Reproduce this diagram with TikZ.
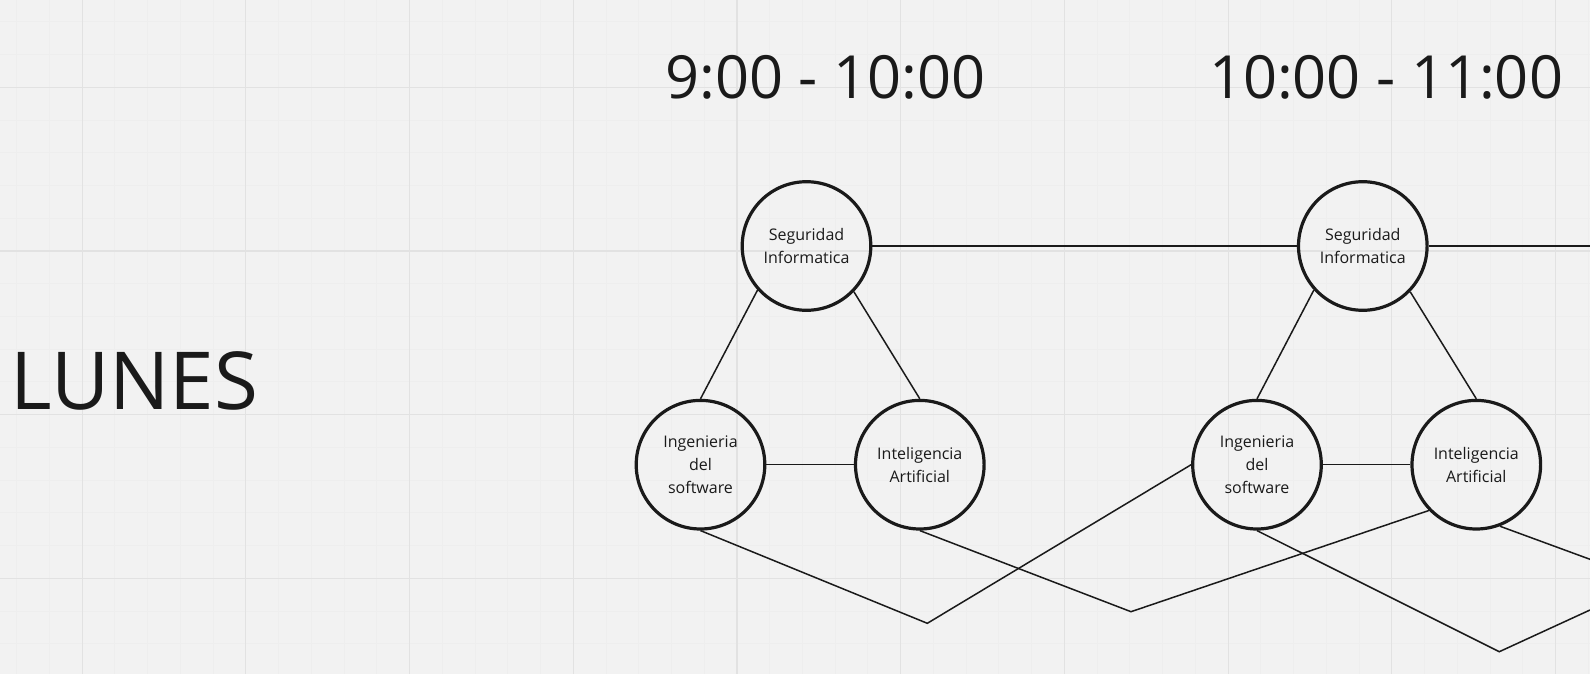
\documentclass[tikz,border=0pt]{standalone}
\usepackage{fontspec}
\setmainfont{Open Sans}
\definecolor{bg}{HTML}{F2F2F2}
\definecolor{gmin}{HTML}{EEEEEE}
\definecolor{gmaj}{HTML}{E2E2E2}
\definecolor{ink}{HTML}{1A1A1A}
\tikzset{
  minorline/.style={draw=gmin, line width=1pt},
  majorline/.style={draw=gmaj, line width=1.1pt},
  subject/.style={circle, draw=ink, line width=3.2pt, minimum size=128.6pt, inner sep=0pt,
    align=center, text=ink, font=\fontsize{16}{23}\selectfont},
  conn/.style={draw=ink, line width=1.5pt},
  title/.style={anchor=base, inner sep=0pt, text=ink, font=\fontsize{59.5}{70}\selectfont},
  daylabel/.style={anchor=base west, inner sep=0pt, text=ink, font=\fontsize{80}{90}\selectfont}
}
\begin{document}
\begin{tikzpicture}[x=1pt, y=-1pt]
\useasboundingbox (0,0) rectangle (1590,674);
\fill[bg] (0,0) rectangle (1590,674);
% grid
\foreach \i in {0,...,48} { \draw[minorline] ({16.7+\i*32.74},0) -- ({16.7+\i*32.74},674); }
\foreach \j in {0,...,20} { \draw[minorline] (0,{21.8+\j*32.74}) -- (1590,{21.8+\j*32.74}); }
\foreach \k in {0,...,9} { \draw[majorline] ({82.2+\k*163.7},0) -- ({82.2+\k*163.7},674); }
\foreach \k in {0,...,3} { \draw[majorline] (0,{87.3+\k*163.7}) -- (1590,{87.3+\k*163.7}); }

% labels
\node[daylabel] (lunes) at (10,409.3) {LUNES};
\node[title] (t1) at (825.5,99) {9:00 - 10:00};
\node[title] (t2) at (1386,99) {10:00 - 11:00};

% group 1
\node[subject] (S1) at (806.5,246) {Seguridad\\Informatica};
\node[subject] (I1) at (700.5,464.7) {Ingenieria\\del\\software};
\node[subject] (A1) at (919.8,464.7) {Inteligencia\\Artificial};
% group 2
\node[subject] (S2) at (1362.8,246) {Seguridad\\Informatica};
\node[subject] (I2) at (1257,464.7) {Ingenieria\\del\\software};
\node[subject] (A2) at (1476.3,464.7) {Inteligencia\\Artificial};

% free ends and bends
\coordinate (e1) at (1590,246);
\coordinate (e2) at (1590,610);
\coordinate (e3) at (1590,559.3);
\coordinate (b1) at (927.3,623.3);
\coordinate (b2) at (1131,611.7);
\coordinate (b3) at (1499.3,651.7);

% connectors
\draw[conn] (S1.222) -- (I1.north);
\draw[conn] (S1.316) -- (A1.north);
\draw[conn] (I1.east) -- (A1.west);
\draw[conn] (S2.222) -- (I2.north);
\draw[conn] (S2.316) -- (A2.north);
\draw[conn] (I2.east) -- (A2.west);
\draw[conn] (S1.east) -- (S2.west);
\draw[conn] (S2.east) -- (e1);
\draw[conn] (I1.south) -- (b1) -- (I2.west);
\draw[conn] (A1.south) -- (b2) -- (A2.224);
\draw[conn] (I2.south) -- (b3) -- (e2);
\draw[conn] (A2.291) -- (e3);
\end{tikzpicture}
\end{document}
